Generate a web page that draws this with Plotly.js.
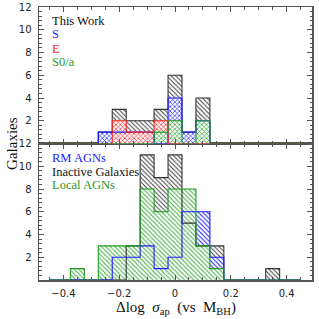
<!DOCTYPE html>
<html><head><meta charset="utf-8">
<script src="https://cdn.plot.ly/plotly-3.0.1.min.js"></script>
<style>html,body{margin:0;padding:0;background:#fff;}#plot{width:319px;height:319px;}</style>
</head><body><div id="plot"></div>
<script>
// bin centres (bin width 0.05)
const bins = [-0.45,-0.4,-0.35,-0.3,-0.25,-0.2,-0.15,-0.1,-0.05,0,0.05,0.1,0.15,0.2,0.25,0.3,0.35,0.4,0.45];
// top panel: This Work
const thisWork = [0,0,0,0,1,3,2,2,3,6,1,4,0,0,0,0,0,0,0];
const typeS    = [0,0,0,0,1,1,1,1,0,4,1,2,0,0,0,0,0,0,0];
const typeE    = [0,0,0,0,0,2,1,1,2,0,0,0,0,0,0,0,0,0,0];
const typeS0a  = [0,0,0,0,0,0,0,0,1,2,0,2,0,0,0,0,0,0,0];
// bottom panel
const rmAGN    = [0,0,0,0,0,2,2,3,1,2,6,6,2,0,0,0,0,0,0];
const inactive = [0,0,0,0,0,0,3,11,9,11,5,3,3,0,0,0,1,0,0];
const localAGN = [0,0,1,0,3,3,3,8,6,8,8,3,1,0,0,0,0,0,0];
const xTicks = [-0.4,-0.2,0,0.2,0.4];
const yTicks = [2,4,6,8,10,12];

const BLUE='#1a1aff', RED='#ff2020', GREEN='#1f9a1f', BLACK='#333333';

function fill(y, xa, ya, fg, shape, bg, sz, sol){
  return {type:'bar', x:bins, y:y, width:0.05, xaxis:xa, yaxis:ya, hoverinfo:'skip', showlegend:false,
    marker:{color:'rgba(0,0,0,0)', line:{width:0},
      pattern:{shape:shape, fgcolor:fg, bgcolor:bg, size:sz, solidity:sol}}};
}
function step(y, xa, ya, c){
  return {type:'scatter', mode:'lines', x:bins, y:y, xaxis:xa, yaxis:ya, hoverinfo:'skip', showlegend:false,
    line:{shape:'hvh', color:c, width:1.1}};
}
const traces = [
  fill(thisWork,'x2','y2','#3a3a3a','\\','#ffffff',3.2,0.3),
  fill(typeS,'x2','y2',BLUE,'x','#ffffff',3.2,0.38),
  fill(typeE,'x2','y2',RED,'x','#ffffff',3.2,0.38),
  fill(typeS0a,'x2','y2',GREEN,'x','#ffffff',3.2,0.38),
  step(thisWork,'x2','y2',BLACK),
  step(typeS,'x2','y2',BLUE),
  step(typeE,'x2','y2',RED),
  step(typeS0a,'x2','y2',GREEN),
  fill(inactive,'x','y','#3a3a3a','\\','#ffffff',3.2,0.3),
  fill(rmAGN,'x','y',BLUE,'\\','#ffffff',3.2,0.3),
  fill(localAGN,'x','y','#3aaa3a','\\','#ffffff',3.2,0.3),
  step(inactive,'x','y',BLACK),
  step(rmAGN,'x','y',BLUE),
  step(localAGN,'x','y',GREEN)
];
const axCol='#555555';
const xbase = {range:[-0.4875,0.491], showline:true, linecolor:axCol, linewidth:1.5, mirror:'allticks',
  ticks:'inside', ticklen:5, tickcolor:axCol, tickwidth:1, tickmode:'array', tickvals:xTicks,
  minor:{tickmode:'linear', tick0:0, dtick:0.05, ticks:'inside', ticklen:3, tickcolor:axCol},
  showgrid:false, zeroline:false, tickfont:{family:'DejaVu Sans', size:10, color:'#222'}, ticklabelstandoff:3};
const ybase = {range:[0,12], showline:true, linecolor:axCol, linewidth:1.5, mirror:'allticks',
  ticks:'inside', ticklen:5, tickcolor:axCol, tickwidth:1, tickmode:'array', tickvals:yTicks,
  minor:{tickmode:'linear', tick0:0, dtick:0.4, ticks:'inside', ticklen:2.5, tickcolor:axCol},
  showgrid:false, zeroline:false, tickfont:{family:'DejaVu Sans', size:10, color:'#222'}, ticklabelstandoff:4};
function ann(t, x, y, c, extra){
  return Object.assign({text:t, xref:'paper', yref:'paper', x:x, y:y, xanchor:'left', yanchor:'middle', showarrow:false,
    font:{family:'Liberation Serif', size:12.5, color:c}}, extra||{});
}
const layout = {
  width:319, height:319, margin:{l:39, r:7, t:7, b:39}, paper_bgcolor:'#fff', plot_bgcolor:'#fff',
  barmode:'overlay', showlegend:false,
  xaxis:Object.assign({}, xbase, {anchor:'y'}),
  yaxis:Object.assign({}, ybase, {domain:[0,0.5], anchor:'x'}),
  xaxis2:Object.assign({}, xbase, {anchor:'y2', showticklabels:false}),
  yaxis2:Object.assign({}, ybase, {domain:[0.5,1], anchor:'x2'}),
  annotations:[
    ann('This Work',0.041,0.947,'#111'),
    ann('S',0.041,0.901,BLUE),
    ann('E',0.041,0.846,RED),
    ann('S0/a',0.041,0.798,GREEN),
    ann('RM AGNs',0.041,0.448,BLUE),
    ann('Inactive Galaxies',0.041,0.396,'#111'),
    ann('Local AGNs',0.041,0.349,GREEN),
    ann('Δlog  <i>σ</i><sub>ap</sub>  (vs  M<sub>BH</sub>)',0.5,-0.103,'#111',{xanchor:'center', font:{family:'Liberation Serif', size:15, color:'#111'}}),
    ann('Galaxies',-0.101,0.5,'#111',{xanchor:'center', textangle:-90, font:{family:'Liberation Serif', size:15, color:'#111'}})
  ]
};
Plotly.newPlot('plot', traces, layout, {staticPlot:true, displayModeBar:false});
</script></body></html>
